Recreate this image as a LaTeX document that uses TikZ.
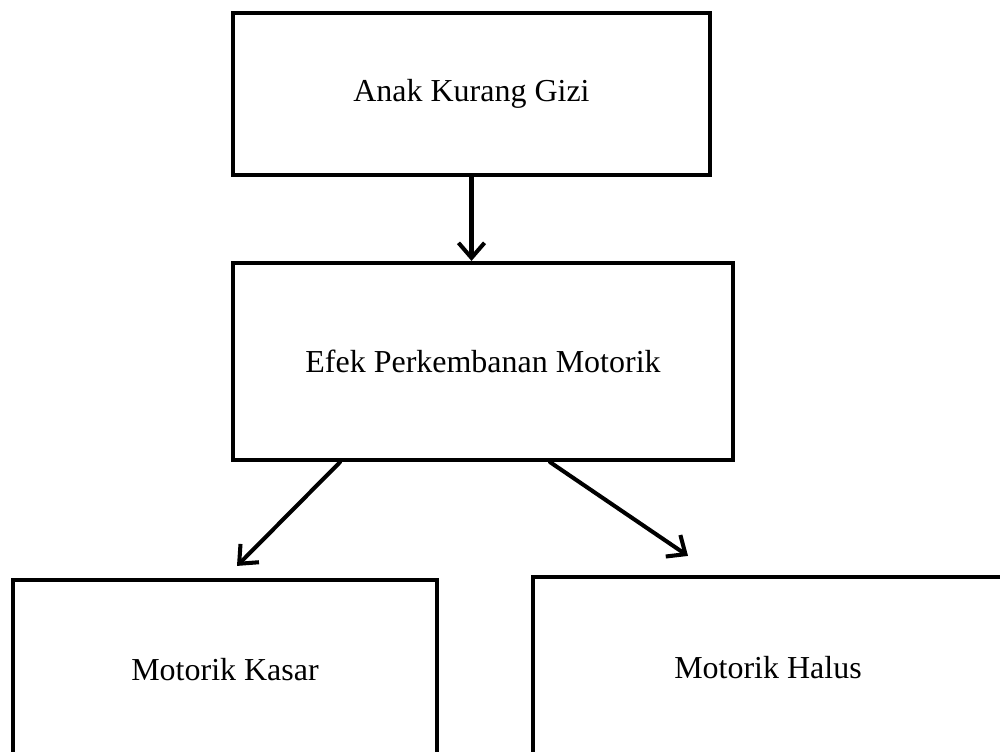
\documentclass[tikz,border=0pt]{standalone}
\usepackage{fontspec}
\setmainfont{Liberation Serif}
\usetikzlibrary{arrows.meta, positioning, calc}

\begin{document}
\begin{tikzpicture}[
  x = 0.02cm, y = -0.02cm,
  box/.style   = {rectangle, draw=black, line width=2.4pt, fill=white,
                  text centered, font=\fontsize{18.2}{22}\selectfont},
  arrow/.style = {line width=2.3pt, line cap=round,
                  -{Straight Barb[length=0.3cm, width=0.52cm]}}
]
\clip (0,0) rectangle (1000,751);
\fill[white] (0,0) rectangle (1000,751);

\node[box, minimum width=9.54cm, minimum height=3.24cm] (gizi)   at (471.5,94)  {Anak Kurang Gizi};
\node[box, minimum width=10cm,   minimum height=3.94cm] (efek)   at (483,361.5) {Efek Perkembanan Motorik};
\node[box, minimum width=8.48cm, minimum height=3.6cm]  (kasar)  at (225,670)   {Motorik Kasar};
\node[box, minimum width=9.4cm,  minimum height=3.64cm] (halus)  at (768,668)   {Motorik Halus};

\draw[arrow] (gizi.south) -- (gizi.south |- efek.north);
\draw[arrow] ([xshift=-2.86cm]efek.south) -- ([xshift=0.24cm, yshift=0.24cm]kasar.north);
\draw[arrow] ([xshift=1.34cm]efek.south) -- ([xshift=-1.6cm, yshift=0.38cm]halus.north);

\end{tikzpicture}
\end{document}
